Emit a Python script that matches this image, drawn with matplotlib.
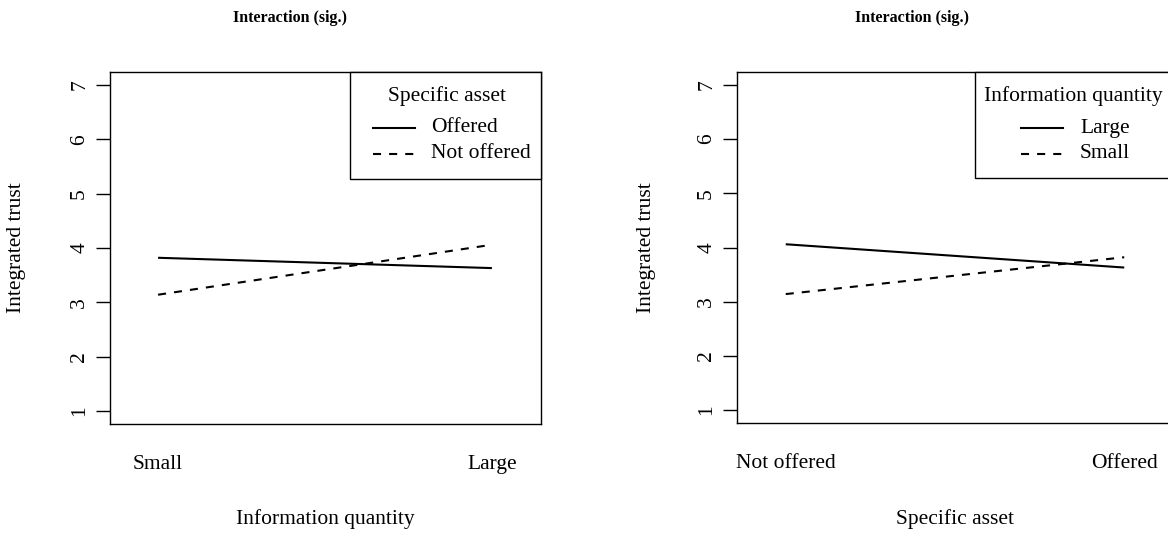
import matplotlib
matplotlib.use("Agg")
import matplotlib.pyplot as plt
from matplotlib.lines import Line2D
from matplotlib.patches import Rectangle

plt.rcParams['font.family'] = ['Liberation Serif', 'DejaVu Serif']
plt.rcParams['lines.scale_dashes'] = False

# ---- data ----
info_levels = ["Small", "Large"]
asset_levels = ["Not offered", "Offered"]
# mean integrated trust by (information quantity, specific asset)
trust_offered = [3.82, 3.63]       # Small, Large  (asset offered)
trust_not_offered = [3.14, 4.06]   # Small, Large  (asset not offered)
# re-arranged for right panel: x = asset (Not offered, Offered)
trust_large = [trust_not_offered[1], trust_offered[1]]
trust_small = [trust_not_offered[0], trust_offered[0]]
yticks = [1, 2, 3, 4, 5, 6, 7]

W, H = 1168, 534
fig = plt.figure(figsize=(W / 100, H / 100), dpi=100)

def fx(x):
    return x / W

def fy(y):
    return 1 - y / H

FS = 15.5
DASH = (0, (5.8, 5.8))
LW = 1.5

def make_axes(left, right, top, bottom):
    ax = fig.add_axes([fx(left), fy(bottom), (right - left) / W, (bottom - top) / H])
    ax.set_xlim(0.856, 2.147)
    ax.set_ylim(0.76, 7.24)
    ax.set_yticks(yticks)
    ax.set_yticklabels([str(v) for v in yticks], rotation=90, va='center')
    ax.tick_params(axis='y', direction='out', length=10, width=1, pad=5, labelsize=FS)
    ax.tick_params(axis='x', length=0, pad=22, labelsize=FS)
    for s in ax.spines.values():
        s.set_linewidth(1.0)
    return ax

# left panel
ax1 = make_axes(110, 541, 72, 424)
xs = [1, 2]
ax1.plot(xs, trust_offered, color='black', lw=LW, solid_capstyle='butt')
ax1.plot(xs, trust_not_offered, color='black', lw=LW, linestyle=DASH)
ax1.set_xticks(xs)
ax1.set_xticklabels(info_levels)

# right panel
ax2 = make_axes(737, 1174, 72, 423)
ax2.plot(xs, trust_large, color='black', lw=LW, solid_capstyle='butt')
ax2.plot(xs, trust_small, color='black', lw=LW, linestyle=DASH)
ax2.set_xticks(xs)
ax2.set_xticklabels(asset_levels)

# titles and axis labels
fig.text(fx(290), fy(18), "Interaction (sig.)", ha='center', va='center',
         fontsize=11.5, fontweight='bold')
fig.text(fx(912), fy(18), "Interaction (sig.)", ha='center', va='center',
         fontsize=11.5, fontweight='bold')
fig.text(fx(325), fy(519), "Information quantity", ha='center', va='center', fontsize=FS)
fig.text(fx(955), fy(519), "Specific asset", ha='center', va='center', fontsize=FS)
fig.text(fx(17), fy(248), "Integrated trust", ha='center', va='center', rotation=90, fontsize=FS)
fig.text(fx(646), fy(248), "Integrated trust", ha='center', va='center', rotation=90, fontsize=FS)

# legends (R style)
def legend(left, right, top, bottom, title, title_x, labels, line_x0, line_x1, text_x, ys, title_y):
    fig.add_artist(Rectangle((fx(left), fy(bottom)), (right - left) / W, (bottom - top) / H,
                             transform=fig.transFigure, facecolor='white',
                             edgecolor='black', lw=1.0, zorder=5))
    fig.text(fx(title_x), fy(title_y), title, ha='center', va='center', fontsize=FS, zorder=6)
    styles = ['-', DASH]
    for lab, y, st in zip(labels, ys, styles):
        fig.add_artist(Line2D([fx(line_x0), fx(line_x1)], [fy(y), fy(y)],
                              transform=fig.transFigure, color='black', lw=LW,
                              linestyle=st, zorder=6))
        fig.text(fx(text_x), fy(y), lab, ha='left', va='center', fontsize=FS, zorder=6)

legend(350, 541, 72, 179, "Specific asset", 447, ["Offered", "Not offered"],
       373, 415, 431, [128, 154], 96)
legend(975, 1180, 72, 178, "Information quantity", 1073, ["Large", "Small"],
       1021, 1063, 1080, [128, 154], 96)

fig.savefig("out.png", dpi=100)
